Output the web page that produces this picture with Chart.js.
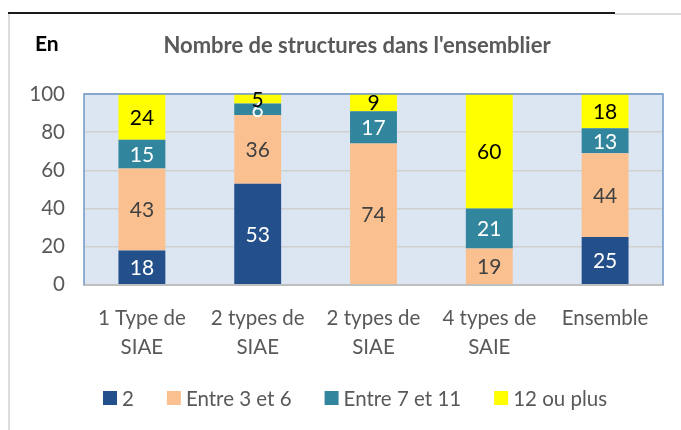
<!DOCTYPE html>
<html>
<head>
<meta charset="utf-8">
<script src="https://cdn.jsdelivr.net/npm/chart.js@4"></script>
<style>
  html, body { margin: 0; padding: 0; background: #fff; }
  #wrap { position: relative; width: 681px; height: 430px; }
</style>
</head>
<body>
<div id="wrap"><canvas id="chart" width="681" height="430"></canvas></div>
<script>
const categories = [['1 Type de', 'SIAE'], ['2 types de', 'SIAE'], ['2 types de', 'SIAE'], ['4 types de', 'SAIE'], 'Ensemble'];
const seriesNames = ['2', 'Entre 3 et 6', 'Entre 7 et 11', '12 ou plus'];
const valuesTwo = [18, 53, 0, 0, 25];
const valuesThreeToSix = [43, 36, 74, 19, 44];
const valuesSevenToEleven = [15, 6, 17, 21, 13];
const valuesTwelvePlus = [24, 5, 9, 60, 18];
const yTicks = [0, 20, 40, 60, 80, 100];

const colors = ['#23508A', '#FAC090', '#31859C', '#FFFF00'];
const labelColors = ['#FFFFFF', '#404040', '#FFFFFF', '#000000'];
const FONT = 'Lato, "Open Sans", sans-serif';

const decorPlugin = {
    id: 'decor',
    beforeDraw(chart) {
        const ctx = chart.ctx;
        const a = chart.chartArea;
        ctx.save();
        // outer frame
        ctx.fillStyle = '#1a1a1a';
        ctx.fillRect(8, 12, 607, 2);
        ctx.fillStyle = '#DDDDDD';
        ctx.fillRect(615, 13, 66, 2);
        ctx.fillRect(8, 14, 2, 416);
        // plot background
        ctx.fillStyle = '#DCE6F2';
        ctx.fillRect(a.left, a.top, a.right - a.left, a.bottom - a.top);
        ctx.restore();
    },
    afterDatasetsDraw(chart) {
        const ctx = chart.ctx;
        const a = chart.chartArea;
        ctx.save();
        // plot border (left, top, right)
        ctx.strokeStyle = '#6E97C8';
        ctx.lineWidth = 1.5;
        ctx.beginPath();
        ctx.moveTo(a.left, a.bottom);
        ctx.lineTo(a.left, a.top);
        ctx.lineTo(a.right, a.top);
        ctx.lineTo(a.right, a.bottom);
        ctx.stroke();
        // value labels
        ctx.font = '21px ' + FONT;
        ctx.textAlign = 'center';
        ctx.textBaseline = 'middle';
        chart.data.datasets.forEach((ds, i) => {
            const meta = chart.getDatasetMeta(i);
            meta.data.forEach((bar, j) => {
                const v = ds.data[j];
                if (!v) return;
                const mid = (bar.y + bar.base) / 2;
                ctx.fillStyle = labelColors[i];
                ctx.fillText(String(v), bar.x, mid + 1);
            });
        });
        // titles
        ctx.textAlign = 'left';
        ctx.fillStyle = '#000';
        ctx.font = 'bold 21px ' + FONT;
        ctx.fillText('En', 35, 44);
        ctx.textAlign = 'center';
        ctx.fillStyle = '#595959';
        ctx.font = 'bold 22px ' + FONT;
        ctx.fillText("Nombre de structures dans l'ensemblier", 357, 46);

        // legend
        ctx.font = '20.5px ' + FONT;
        ctx.textAlign = 'left';
        let x = 103;
        const y = 399;
        chart.data.datasets.forEach(ds => {
            ctx.fillStyle = ds.backgroundColor;
            ctx.fillRect(x, y - 8, 14, 14);
            ctx.fillStyle = '#595959';
            ctx.fillText(ds.label, x + 19, y);
            x += 19 + ctx.measureText(ds.label).width + 33;
        });
        ctx.restore();
    }
};

const datasets = [valuesTwo, valuesThreeToSix, valuesSevenToEleven, valuesTwelvePlus].map((vals, i) => ({
    label: seriesNames[i],
    data: vals,
    backgroundColor: colors[i],
    borderWidth: 0,
    barPercentage: 0.405,
    categoryPercentage: 1
}));

new Chart(document.getElementById('chart').getContext('2d'), {
    type: 'bar',
    data: { labels: categories, datasets: datasets },
    options: {
        responsive: false,
        animation: false,
        layout: { padding: { top: 94, right: 18, left: 0, bottom: 49 } },
        scales: {
            x: {
                stacked: true,
                grid: { display: false, drawTicks: false },
                border: { color: '#BFBFBF', width: 2 },
                ticks: { color: '#595959', font: { family: FONT, size: 20.5, lineHeight: 1.37 }, padding: 20, maxRotation: 0, autoSkip: false }
            },
            y: {
                stacked: true,
                min: 0,
                max: 100,
                afterBuildTicks: axis => { axis.ticks = yTicks.map(v => ({ value: v })); },
                afterFit: axis => { axis.width = 84; },
                grid: { color: '#D0D0D0', lineWidth: 1.5, drawTicks: false },
                border: { display: false },
                ticks: { color: '#595959', font: { family: FONT, size: 20.5 }, padding: 19 }
            }
        },
        plugins: {
            legend: { display: false },
            tooltip: { enabled: false }
        }
    },
    plugins: [decorPlugin]
});
</script>
</body>
</html>
